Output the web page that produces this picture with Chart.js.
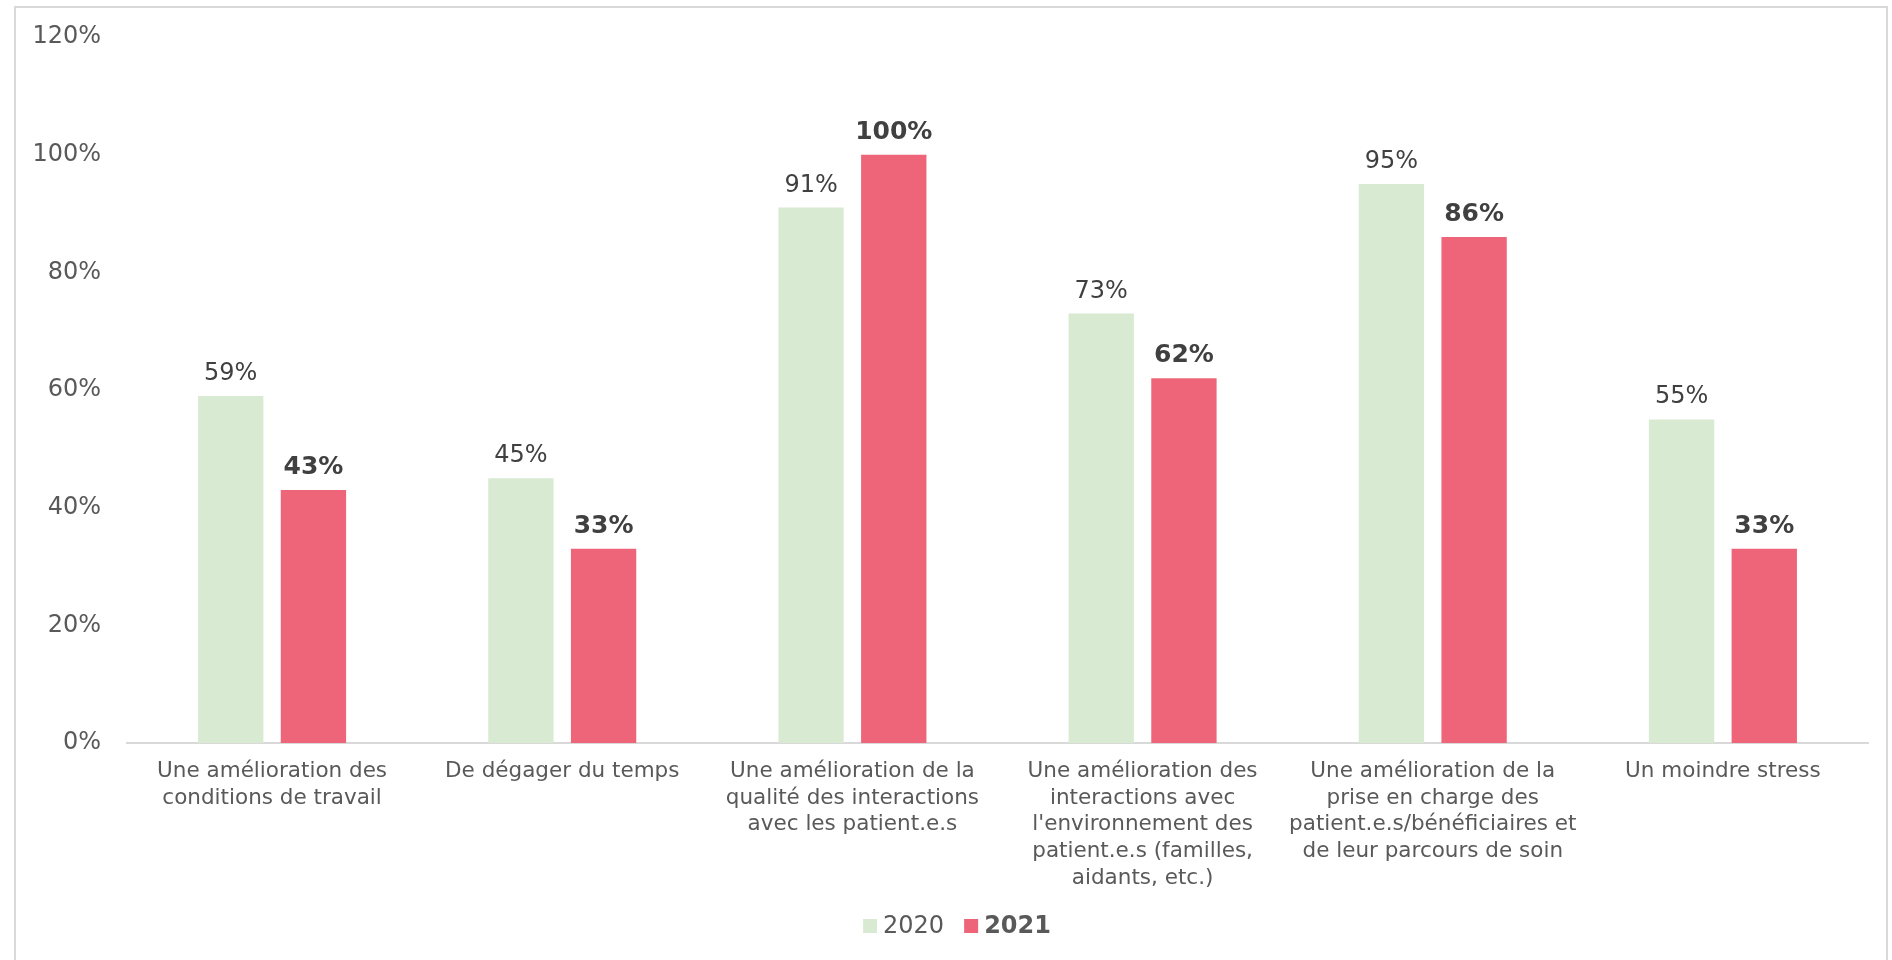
<!DOCTYPE html>
<html>
<head>
<meta charset="utf-8">
<script src="https://cdn.jsdelivr.net/npm/chart.js@4"></script>
<style>
  html, body { margin: 0; padding: 0; background: #fff; }
  #frame {
    position: absolute; left: 14px; top: 6px; width: 1874px; height: 1000px;
    border: 2px solid #d9d9d9; box-sizing: border-box;
  }
  #wrap { position: absolute; left: 0; top: 0; width: 1892px; height: 960px; }
</style>
</head>
<body>
<div id="frame"></div>
<div id="wrap"><canvas id="chart"></canvas></div>
<script>
// categories (multi-line labels under the x axis)
const categories = [
  ["Une amélioration des", "conditions de travail"],
  ["De dégager du temps"],
  ["Une amélioration de la", "qualité des interactions", "avec les patient.e.s"],
  ["Une amélioration des", "interactions avec", "l'environnement des", "patient.e.s (familles,", "aidants, etc.)"],
  ["Une amélioration de la", "prise en charge des", "patient.e.s/bénéficiaires et", "de leur parcours de soin"],
  ["Un moindre stress"]
];
const values2020 = [59, 45, 91, 73, 95, 55];
const values2021 = [43, 33, 100, 62, 86, 33];
const seriesNames = ["2020", "2021"];
const yTicks = [0, 20, 40, 60, 80, 100, 120];

const FONT = "'DejaVu Sans', Verdana, sans-serif";
const GREEN = "#d9ead3";
const RED = "#ee6479";

// value labels above each bar, 2021 in bold
const barLabels = {
  id: "barLabels",
  afterDatasetsDraw(chart) {
    const ctx = chart.ctx;
    ctx.save();
    ctx.textAlign = "center";
    ctx.textBaseline = "alphabetic";
    ctx.fillStyle = "#404040";
    chart.data.datasets.forEach((ds, i) => {
      ctx.font = (i === 1 ? "bold 25px " : "24px ") + FONT;
      chart.getDatasetMeta(i).data.forEach((bar, j) => {
        ctx.fillText(ds.data[j] + "%", bar.x, bar.y - 16);
      });
    });
    ctx.restore();
  }
};

// legend drawn by hand so the second entry can be bold
const legendBottom = {
  id: "legendBottom",
  afterDraw(chart) {
    const ctx = chart.ctx;
    const box = 14, gapText = 6, gapItem = 20, y = 926;
    ctx.save();
    const items = chart.data.datasets.map((ds, i) => {
      const font = (i === 1 ? "bold " : "") + "24px " + FONT;
      ctx.font = font;
      return { label: ds.label, color: ds.backgroundColor, font: font, w: ctx.measureText(ds.label).width };
    });
    let total = 0;
    items.forEach((it, i) => { total += box + gapText + it.w + (i ? gapItem : 0); });
    let x = chart.width / 2 + 11 - total / 2;
    ctx.textBaseline = "middle";
    ctx.textAlign = "left";
    items.forEach((it) => {
      ctx.fillStyle = it.color;
      ctx.fillRect(x, y - box / 2, box, box);
      x += box + gapText;
      ctx.font = it.font;
      ctx.fillStyle = "#595959";
      ctx.fillText(it.label, x, y + 1);
      x += it.w + gapItem;
    });
    ctx.restore();
  }
};

const chart = new Chart(document.getElementById("chart"), {
  type: "bar",
  data: {
    labels: categories,
    datasets: [
      { label: seriesNames[0], data: values2020, backgroundColor: GREEN },
      { label: seriesNames[1], data: values2021, backgroundColor: RED }
    ]
  },
  options: {
    responsive: true,
    maintainAspectRatio: false,
    animation: false,
    categoryPercentage: 0.57,
    barPercentage: 0.79,
    layout: { padding: { left: 0, right: 24, top: 37, bottom: 67 } },
    plugins: {
      legend: { display: false },
      tooltip: { enabled: false }
    },
    scales: {
      x: {
        grid: { display: false, drawTicks: false },
        border: { color: "#d9d9d9", width: 2 },
        ticks: {
          color: "#595959",
          font: { family: FONT, size: 21.5, lineHeight: 1.24 },
          padding: 15,
          maxRotation: 0,
          autoSkip: false
        },
        afterFit(scale) { scale.height = 150; }
      },
      y: {
        min: 0,
        max: 120,
        grid: { display: false, drawTicks: false },
        border: { display: false },
        afterBuildTicks(scale) { scale.ticks = yTicks.map(v => ({ value: v })); },
        ticks: {
          color: "#595959",
          font: { family: FONT, size: 24 },
          padding: 26,
          callback: v => v + "%"
        },
        afterFit(scale) {
          scale.width = 127;
          scale.paddingTop = 0;
          scale.paddingBottom = 0;
        }
      }
    }
  },
  plugins: [barLabels, legendBottom]
});
</script>
</body>
</html>
